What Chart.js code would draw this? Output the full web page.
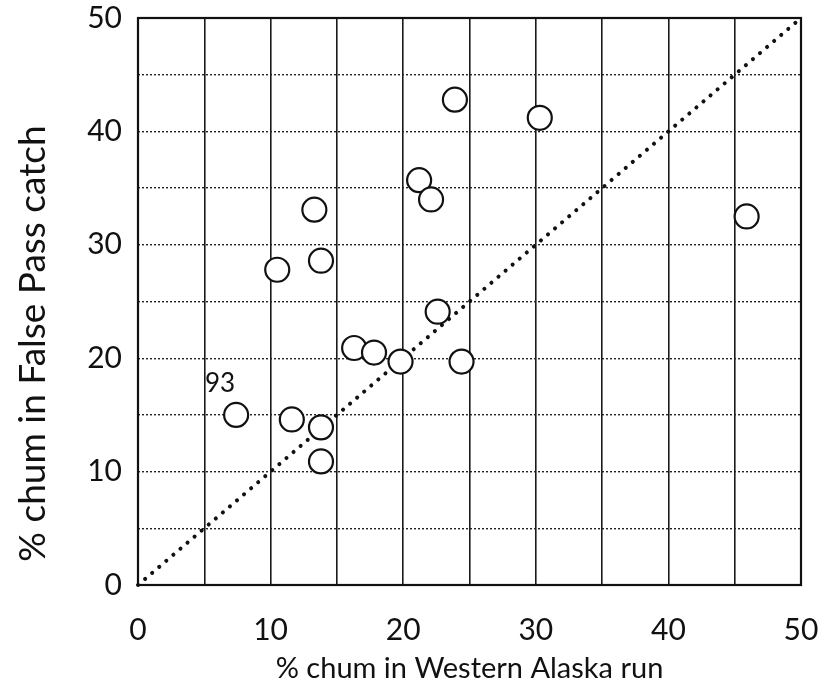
<!DOCTYPE html>
<html>
<head>
<meta charset="utf-8">
<script src="https://cdn.jsdelivr.net/npm/chart.js@4.4.1/dist/chart.umd.min.js"></script>
<style>
  html, body { margin: 0; padding: 0; background: #fff; }
  canvas { display: block; }
</style>
</head>
<body>
<canvas id="chart" width="827" height="694"></canvas>
<script>
// Percent chum salmon: Western Alaska run (x) vs False Pass catch (y), one point per year
const westernRun = [7.4, 11.6, 13.8, 13.8, 10.5, 13.8, 13.3, 16.3, 17.8, 19.8, 22.6, 24.4, 21.2, 22.1, 23.9, 30.3, 45.9];
const falsePass  = [15.0, 14.6, 13.9, 10.9, 27.8, 28.6, 33.1, 20.9, 20.5, 19.7, 24.1, 19.7, 35.7, 34.0, 42.8, 41.2, 32.5];
const pointNotes = ['93', '', '', '', '', '', '', '', '', '', '', '', '', '', '', '', ''];

// 1:1 reference line
const equalLine = [0, 50];

const axisTicks = [0, 10, 20, 30, 40, 50];
const xTitle = '% chum in Western Alaska run';
const yTitle = '% chum in False Pass catch';

const FONT = 'Lato, "Open Sans", sans-serif';
const INK = '#111';

const points = westernRun.map((x, i) => ({ x: x, y: falsePass[i] }));

// Frame around the plotting area
const framePlugin = {
  id: 'frame',
  beforeDatasetsDraw(chart) {
    const a = chart.chartArea;
    const ctx = chart.ctx;
    ctx.save();
    ctx.strokeStyle = INK;
    ctx.lineWidth = 2.2;
    ctx.strokeRect(a.left, a.top, a.right - a.left, a.bottom - a.top);
    ctx.restore();
  }
};

// Vertical axis title, set a little below the middle of the axis
const yTitlePlugin = {
  id: 'yTitle',
  afterDraw(chart) {
    const a = chart.chartArea;
    const ctx = chart.ctx;
    ctx.save();
    ctx.translate(33, (a.top + a.bottom) / 2 + 42);
    ctx.rotate(-Math.PI / 2);
    ctx.fillStyle = INK;
    ctx.font = '37px ' + FONT;
    ctx.textAlign = 'center';
    ctx.textBaseline = 'middle';
    ctx.fillText(yTitle, 0, 0);
    ctx.restore();
  }
};

// Year notes written next to their points
const notePlugin = {
  id: 'notes',
  afterDatasetsDraw(chart) {
    const meta = chart.getDatasetMeta(1);
    const ctx = chart.ctx;
    ctx.save();
    ctx.fillStyle = INK;
    ctx.font = '26px ' + FONT;
    ctx.textAlign = 'center';
    ctx.textBaseline = 'middle';
    meta.data.forEach((el, i) => {
      if (pointNotes[i]) ctx.fillText(pointNotes[i], el.x - 16, el.y - 31);
    });
    ctx.restore();
  }
};

const tickLabel = (v) => axisTicks.includes(v) ? String(v) : '';

new Chart(document.getElementById('chart'), {
  type: 'scatter',
  data: {
    datasets: [
      {
        type: 'line',
        data: equalLine.map(v => ({ x: v, y: v })),
        borderColor: INK,
        borderWidth: 4,
        borderCapStyle: 'round',
        borderDash: [0.1, 9.2],
        pointRadius: 0,
        fill: false,
        clip: false,
        order: 2
      },
      {
        data: points,
        pointRadius: 12,
        pointBorderWidth: 2.2,
        pointBorderColor: INK,
        pointBackgroundColor: '#fff',
        order: 1
      }
    ]
  },
  options: {
    responsive: false,
    animation: false,
    layout: { padding: { top: 18, right: 26, bottom: 0, left: 0 } },
    plugins: { legend: { display: false }, tooltip: { enabled: false } },
    scales: {
      x: {
        type: 'linear',
        min: 0, max: 50,
        afterFit(scale) {
          scale.height = 109;
          scale.paddingLeft = 0;
          scale.paddingRight = 0;
        },
        border: { display: false },
        grid: { color: '#1a1a1a', lineWidth: 1.6, drawTicks: false },
        ticks: {
          stepSize: 5, autoSkip: false, maxRotation: 0,
          padding: 27, color: INK,
          font: { family: FONT, size: 30 },
          callback: tickLabel
        },
        title: {
          display: true, text: xTitle, color: INK,
          font: { family: FONT, size: 29 },
          padding: { top: 0, bottom: 8 }
        }
      },
      y: {
        type: 'linear',
        min: 0, max: 50,
        afterFit(scale) {
          scale.width = 138;
          scale.paddingTop = 0;
          scale.paddingBottom = 0;
        },
        border: { display: false, dash: [2, 2] },
        grid: { color: '#222', lineWidth: 1.4, drawTicks: false },
        ticks: {
          stepSize: 5, autoSkip: false,
          padding: 16, color: INK,
          font: { family: FONT, size: 30 },
          callback: tickLabel
        },
        title: { display: false }
      }
    }
  },
  plugins: [framePlugin, notePlugin, yTitlePlugin]
});
</script>
</body>
</html>
